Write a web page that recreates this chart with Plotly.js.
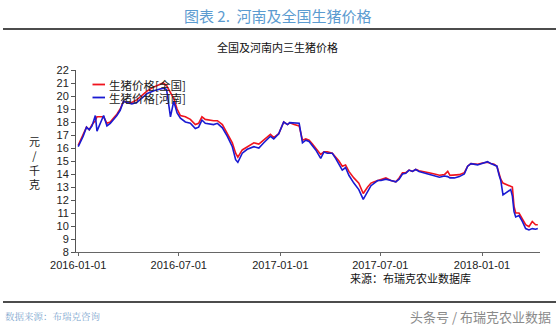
<!DOCTYPE html>
<html>
<head>
<meta charset="utf-8">
<script src="https://cdn.plot.ly/plotly-3.0.1.min.js"></script>
<style>
html,body{margin:0;padding:0;background:#fff;}
#chart{width:559px;height:327px;}
</style>
</head>
<body>
<div id="chart"></div>
<script>
const dates = [
"2016-01-01","2016-01-10","2016-01-16","2016-01-21","2016-01-26","2016-02-01","2016-02-04","2016-02-10","2016-02-16","2016-02-22",
"2016-02-28","2016-03-05","2016-03-11","2016-03-17","2016-03-23","2016-03-29","2016-04-07","2016-04-16","2016-04-22","2016-05-05",
"2016-05-17","2016-05-29","2016-06-03","2016-06-09","2016-06-16","2016-06-22","2016-06-28","2016-07-04","2016-07-13","2016-07-22",
"2016-07-31","2016-08-06","2016-08-12","2016-08-18","2016-09-02","2016-09-09","2016-09-18","2016-09-27","2016-10-06","2016-10-12",
"2016-10-16","2016-10-24","2016-11-02","2016-11-14","2016-11-23","2016-12-02","2016-12-14","2016-12-20","2016-12-29","2017-01-07",
"2017-01-14","2017-01-18","2017-01-26","2017-02-04","2017-02-10","2017-02-16","2017-02-22","2017-02-28","2017-03-06","2017-03-15",
"2017-03-21","2017-03-27","2017-04-05","2017-04-11","2017-04-17","2017-04-23","2017-04-29","2017-05-05","2017-05-14","2017-05-23",
"2017-05-31","2017-06-08","2017-06-14","2017-06-20","2017-06-26","2017-07-02","2017-07-11","2017-07-20","2017-07-29","2017-08-04",
"2017-08-10","2017-08-16","2017-08-22","2017-08-28","2017-09-03","2017-09-09","2017-09-18","2017-09-27","2017-10-07","2017-10-16",
"2017-10-25","2017-10-31","2017-11-04","2017-11-12","2017-11-21","2017-11-30","2017-12-06","2017-12-12","2017-12-24","2018-01-02",
"2018-01-11","2018-01-17","2018-01-23","2018-01-28","2018-02-01","2018-02-04","2018-02-08","2018-02-22","2018-02-25","2018-02-28",
"2018-03-03","2018-03-09","2018-03-15","2018-03-21","2018-03-27","2018-04-02","2018-04-08","2018-04-12"
];
const national = [
16.2,17.0,17.6,17.4,17.8,18.1,18.4,18.4,18.4,17.9,
18.0,18.3,18.6,19.0,19.6,19.5,19.5,19.7,19.9,20.4,
20.7,20.9,21.0,20.8,20.3,19.8,19.0,18.5,18.4,18.2,
17.8,17.9,18.4,18.2,18.1,18.1,17.8,17.1,16.4,15.6,
15.3,15.85,16.1,16.4,16.3,16.6,17.05,16.8,17.1,18.0,
17.8,17.95,17.8,17.7,16.6,16.7,16.6,16.3,16.0,15.5,
15.7,15.7,15.6,15.3,15.0,14.6,14.7,14.2,13.7,13.3,
12.5,13.0,13.3,13.4,13.5,13.6,13.7,13.5,13.4,13.7,
14.1,14.1,14.3,14.2,14.35,14.25,14.2,14.1,14.0,13.9,
13.95,14.2,13.9,13.9,13.95,14.1,14.6,14.8,14.75,14.85,
14.9,14.8,14.75,14.6,14.0,13.6,13.3,13.1,13.0,11.5,
11.0,11.0,10.6,10.1,9.95,10.35,10.1,10.1
];
const henan = [
16.1,16.9,17.6,17.4,17.7,18.5,17.3,17.9,18.5,17.7,
17.9,18.2,18.5,18.9,19.6,19.5,19.4,19.5,19.7,20.2,
20.4,20.5,20.6,20.5,18.4,19.6,18.7,18.3,18.0,17.9,
17.5,17.6,18.15,17.9,17.8,17.9,17.55,16.9,16.1,15.1,
14.9,15.6,15.9,16.1,16.0,16.4,16.9,16.7,17.1,18.0,
17.8,17.95,17.9,17.9,16.4,16.6,16.5,16.2,15.85,15.2,
15.7,15.6,15.6,15.2,14.8,14.3,14.5,13.9,13.3,12.8,
12.05,12.65,13.1,13.3,13.5,13.5,13.6,13.5,13.4,13.6,
14.0,14.05,14.3,14.2,14.35,14.2,14.1,14.0,13.9,13.75,
13.85,13.8,13.7,13.7,13.8,14.0,14.6,14.8,14.7,14.85,
14.95,14.8,14.7,14.6,13.9,13.5,12.4,12.8,12.3,11.1,
10.7,10.8,10.35,9.8,9.7,9.8,9.75,9.8
];
const seriesNames = ["生猪价格[全国]","生猪价格[河南]"];
const xTicks = ["2016-01-01","2016-07-01","2017-01-01","2017-07-01","2018-01-01"];
const yTicks = [8,9,10,11,12,13,14,15,16,17,18,19,20,21,22];

const RED = "#f0141e", BLUE = "#1a1ad2";
const FONT = "Noto Sans CJK SC, DejaVu Sans, sans-serif";
const TICKFONT = "Liberation Sans, Arial, sans-serif";

const traces = [
  {x: dates, y: national, type: "scatter", mode: "lines", name: seriesNames[0],
   line: {color: RED, width: 1.6}},
  {x: dates, y: henan, type: "scatter", mode: "lines", name: seriesNames[1],
   line: {color: BLUE, width: 1.6}}
];

const px = v => (v - 76) / 464;     // pixel x -> paper
const py = v => (252 - v) / 182;    // pixel y -> paper

const layout = {
  width: 559, height: 327,
  margin: {l: 76, r: 19, t: 70, b: 75},
  paper_bgcolor: "#fff", plot_bgcolor: "#fff",
  showlegend: false,
  font: {family: FONT, size: 11, color: "#222"},
  xaxis: {
    type: "date", range: ["2015-12-28", "2018-04-16"],
    tickvals: xTicks, ticktext: xTicks,
    showgrid: false, zeroline: false,
    showline: true, linecolor: "#666", linewidth: 1,
    ticks: "outside", ticklen: 3, tickcolor: "#666",
    tickfont: {family: TICKFONT, size: 11, color: "#222"}
  },
  yaxis: {
    range: [8, 22], tickvals: yTicks,
    showgrid: false, zeroline: false,
    showline: true, linecolor: "#555", linewidth: 1,
    ticks: "outside", ticklen: 4, tickcolor: "#555",
    tickfont: {family: TICKFONT, size: 11, color: "#222"}
  },
  shapes: [
    {type: "line", xref: "paper", yref: "paper", x0: px(3), x1: px(556), y0: py(29), y1: py(29),
     line: {color: "#111", width: 1.5}},
    {type: "line", xref: "paper", yref: "paper", x0: px(3), x1: px(556), y0: py(302), y1: py(302),
     line: {color: "#111", width: 1.5}},
    {type: "line", xref: "paper", yref: "paper", x0: px(92.5), x1: px(105), y0: py(84.5), y1: py(84.5),
     line: {color: RED, width: 1.8}},
    {type: "line", xref: "paper", yref: "paper", x0: px(92.5), x1: px(105), y0: py(97.5), y1: py(97.5),
     line: {color: BLUE, width: 1.8}}
  ],
  annotations: [
    {xref: "paper", yref: "paper", x: px(278), y: py(16), text: "图表 2.  河南及全国生猪价格",
     showarrow: false, xanchor: "center", yanchor: "middle",
     font: {family: FONT, size: 15, color: "#5b9bd0"}},
    {xref: "paper", yref: "paper", x: px(277), y: py(47), text: "全国及河南内三生猪价格",
     showarrow: false, xanchor: "center", yanchor: "middle",
     font: {family: FONT, size: 11, color: "#111"}},
    {xref: "paper", yref: "paper", x: px(34), y: py(162), text: "元<br>/<br>千<br>克",
     showarrow: false, xanchor: "center", yanchor: "middle",
     font: {family: FONT, size: 11, color: "#222"}},
    {xref: "paper", yref: "paper", x: px(107), y: py(84.5), text: seriesNames[0],
     showarrow: false, xanchor: "left", yanchor: "middle",
     font: {family: FONT, size: 11.5, color: "#222"}},
    {xref: "paper", yref: "paper", x: px(107), y: py(97.5), text: seriesNames[1],
     showarrow: false, xanchor: "left", yanchor: "middle",
     font: {family: FONT, size: 11.5, color: "#222"}},
    {xref: "paper", yref: "paper", x: px(348), y: py(278), text: "来源：布瑞克农业数据库",
     showarrow: false, xanchor: "left", yanchor: "middle",
     font: {family: FONT, size: 11, color: "#111"}},
    {xref: "paper", yref: "paper", x: px(3), y: py(316), text: "数据来源：布瑞克咨询",
     showarrow: false, xanchor: "left", yanchor: "middle",
     font: {family: "Noto Serif CJK SC, Noto Sans CJK SC, serif", size: 9.5, color: "#7fa8cf"}},
    {xref: "paper", yref: "paper", x: px(553), y: py(316), text: "头条号 / 布瑞克农业数据",
     showarrow: false, xanchor: "right", yanchor: "middle",
     font: {family: FONT, size: 13, color: "#8a8a8a"}}
  ]
};

Plotly.newPlot("chart", traces, layout, {displayModeBar: false, staticPlot: true});
</script>
</body>
</html>
